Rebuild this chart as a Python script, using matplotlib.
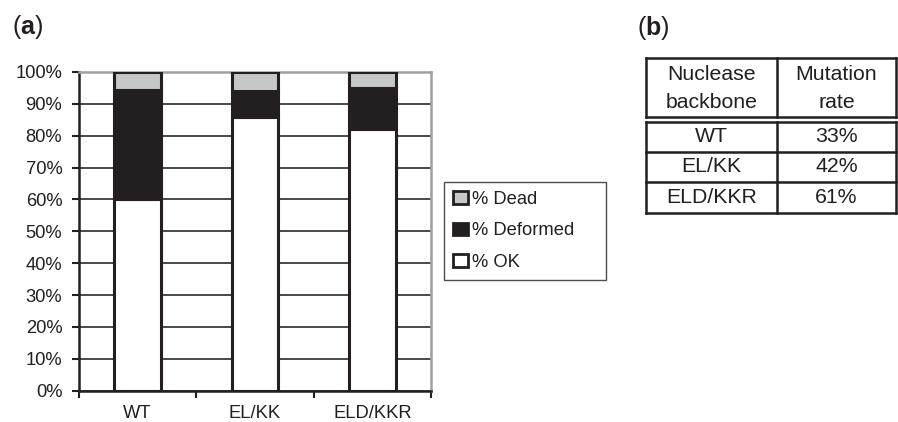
import matplotlib
matplotlib.use("Agg")
import matplotlib.pyplot as plt
from matplotlib.patches import Patch
import numpy as np

plt.rcParams['font.family'] = ['Liberation Sans', 'DejaVu Sans']
plt.rcParams['mathtext.fontset'] = 'custom'
plt.rcParams['mathtext.rm'] = 'Liberation Sans'
plt.rcParams['mathtext.bf'] = 'Liberation Sans:bold'

categories = ["WT", "EL/KK", "ELD/KKR"]
pct_ok = [60, 86, 82]
pct_deformed = [34.5, 8, 13]
pct_dead = [5.5, 6, 5]
yticks = list(range(0, 101, 10))

table_header = [["Nuclease\nbackbone", "Mutation\nrate"]]
table_rows = [["WT", "33%"], ["EL/KK", "42%"], ["ELD/KKR", "61%"]]

TXT = "#231f20"
DARK = "#231f20"
GRAY = "#c6c7c8"
FS = 13.2

W, H = 898, 422
fig = plt.figure(figsize=(W / 100, H / 100), dpi=100)

def fx(px):
    return px / W

def fy(py):
    return 1 - py / H

ax = fig.add_axes([fx(79), fy(390.7), fx(431) - fx(79), fy(72) - fy(390.7)])
x = np.arange(len(categories))
bw = 0.4
lw = 2.2
ok = np.array(pct_ok)
de = np.array(pct_deformed)
dd = np.array(pct_dead)
ax.bar(x, ok, bw, color="white", edgecolor=DARK, linewidth=lw, zorder=3)
ax.bar(x, de, bw, bottom=ok, color=DARK, edgecolor=DARK, linewidth=lw, zorder=3)
ax.bar(x, dd, bw, bottom=ok + de, color=GRAY, edgecolor=DARK, linewidth=lw, zorder=3)

ax.set_xlim(-0.5, len(categories) - 0.5)
ax.set_ylim(0, 100)
ax.set_yticks(yticks)
ax.set_yticklabels([f"{v}%" for v in yticks], fontsize=FS, color=TXT)
ax.set_xticks(x)
ax.set_xticklabels(categories, fontsize=FS, color=TXT)
ax.tick_params(axis='x', which='major', length=0, pad=10)
ax.set_xticks(np.arange(-0.5, len(categories), 1.0), minor=True)
ax.tick_params(axis='x', which='minor', length=5, width=1.5, color=DARK, direction='out')
ax.tick_params(axis='y', length=5, width=1.5, color=DARK, direction='out', pad=7)
ax.yaxis.grid(True, color="#3a3a3a", linewidth=1.3, zorder=0)
ax.set_axisbelow(True)
for s in ['left', 'bottom']:
    ax.spines[s].set_color(DARK)
    ax.spines[s].set_linewidth(1.8)
for s in ['top', 'right']:
    ax.spines[s].set_color("#a0a0a0")
    ax.spines[s].set_linewidth(1.8)

handles = [
    Patch(facecolor=GRAY, edgecolor=DARK, linewidth=2, label="% Dead"),
    Patch(facecolor=DARK, edgecolor=DARK, linewidth=2, label="% Deformed"),
    Patch(facecolor="white", edgecolor=DARK, linewidth=2, label="% OK"),
]
leg = fig.legend(handles=handles, loc="upper left",
                 bbox_to_anchor=(fx(444), fy(279), fx(606) - fx(444), fy(182) - fy(279)),
                 mode="expand", fontsize=FS, frameon=True, fancybox=False,
                 handlelength=0.8, handleheight=0.7, handletextpad=0.2,
                 labelspacing=0.78, borderpad=0.5, borderaxespad=0)
leg.get_frame().set_edgecolor(DARK)
leg.get_frame().set_linewidth(1.0)
for t in leg.get_texts():
    t.set_color(TXT)

# panel labels
fig.text(fx(12), fy(27), r"($\mathbf{a}$)", fontsize=18, color=TXT, va="center", ha="left")
fig.text(fx(637), fy(28), r"($\mathbf{b}$)", fontsize=18, color=TXT, va="center", ha="left")

# table (pixel-coordinate axes)
tax = fig.add_axes([0, 0, 1, 1])
tax.set_xlim(0, W)
tax.set_ylim(H, 0)
tax.axis("off")
L, M, R = 646, 777, 896
top, hb1, hb2 = 57.5, 117.3, 121.7
row_edges = [hb2, 151.7, 181.7, 212.7]
tlw = 1.8
tax.plot([L, R], [top, top], color=DARK, lw=tlw)
tax.plot([L, R], [hb1, hb1], color=DARK, lw=tlw)
for yy in row_edges:
    tax.plot([L, R], [yy, yy], color=DARK, lw=tlw)
for xx in (L, M, R):
    tax.plot([xx, xx], [top, hb1], color=DARK, lw=tlw)
    tax.plot([xx, xx], [hb2, row_edges[-1]], color=DARK, lw=tlw)
cx = [(L + M) / 2, (M + R) / 2]
for j, txt in enumerate(table_header[0]):
    tax.text(cx[j], (top + hb1) / 2 + 1, txt, ha="center", va="center", fontsize=15.3,
             color=TXT, linespacing=1.55)
for i, row in enumerate(table_rows):
    yc = (row_edges[i] + row_edges[i + 1]) / 2
    for j, txt in enumerate(row):
        tax.text(cx[j], yc, txt, ha="center", va="center", fontsize=15.3, color=TXT)

fig.savefig("out.png", dpi=100)
